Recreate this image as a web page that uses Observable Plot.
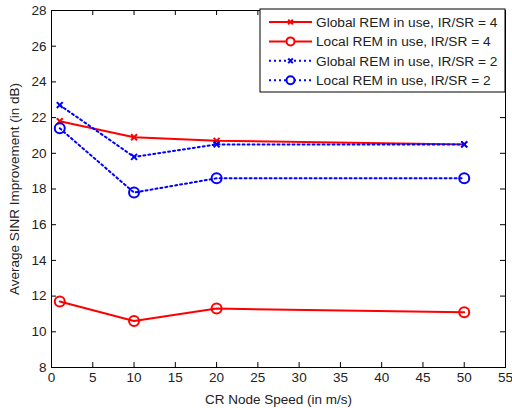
<!DOCTYPE html>
<html><head><meta charset="utf-8">
<script src="https://cdn.jsdelivr.net/npm/d3@7"></script>
<script src="https://cdn.jsdelivr.net/npm/@observablehq/plot@0.6"></script>
<style>body{margin:0;background:#fff;font-family:"Liberation Sans",Arial,sans-serif}</style>
</head><body><div id="chart"></div>
<script>
const speeds = [1, 10, 20, 50];
const globalIR4 = [21.8, 20.9, 20.7, 20.5];
const localIR4 = [11.7, 10.6, 11.3, 11.1];
const globalIR2 = [22.7, 19.8, 20.5, 20.5];
const localIR2 = [21.4, 17.8, 18.6, 18.6];
const seriesNames = ["Global REM in use, IR/SR = 4","Local REM in use, IR/SR = 4","Global REM in use, IR/SR = 2","Local REM in use, IR/SR = 2"];
const xTicks = d3.range(0, 56, 5);
const yTicks = d3.range(8, 29, 2);

const styles = [
  {color:"#ff0000", dash:null, symbol:"times"},
  {color:"#ff0000", dash:null, symbol:"circle"},
  {color:"#0000ff", dash:"2,3", symbol:"times"},
  {color:"#0000ff", dash:"2,3", symbol:"circle"}
];
const allVals = [globalIR4, localIR4, globalIR2, localIR2];
const rows = [];
allVals.forEach((vals, s) => vals.forEach((v, i) => rows.push({series: seriesNames[s], s, x: speeds[i], y: v})));

const W = 512, H = 408, mL = 51, mR = 7, mT = 10, mB = 41;
const inner = H - mT - mB, innerW = W - mL - mR;

const marks = [Plot.frame({stroke:"#000", strokeWidth:1})];
marks.push(Plot.tickX(xTicks, {x: d=>d, stroke:"#000", insetTop: inner-5}));
marks.push(Plot.tickX(xTicks, {x: d=>d, stroke:"#000", insetBottom: inner-5}));
marks.push(Plot.tickY(yTicks, {y: d=>d, stroke:"#000", insetRight: innerW-5}));
marks.push(Plot.tickY(yTicks, {y: d=>d, stroke:"#000", insetLeft: innerW-5}));
styles.forEach((st, s) => {
  const d = rows.filter(r => r.s === s);
  marks.push(Plot.line(d, {x:"x", y:"y", stroke: st.color, strokeWidth: 2, strokeDasharray: st.dash}));
  if (st.symbol === "circle")
    marks.push(Plot.dot(d, {x:"x", y:"y", stroke: st.color, strokeWidth: 2, r: 5, fill:"none"}));
  else
    marks.push(Plot.dot(d, {x:"x", y:"y", stroke: st.color, strokeWidth: 2, r: 2.8, symbol:"times"}));
});
marks.push(Plot.axisX(xTicks, {tickSize:0, tickPadding:5, fontSize:13.5, label:"CR Node Speed (in m/s)", labelAnchor:"center", labelArrow:"none", labelOffset:36, color:"#222"}));
marks.push(Plot.axisY(yTicks, {tickSize:0, tickPadding:5, fontSize:13.5, label:"Average SINR Improvement (in dB)", labelAnchor:"center", labelOffset:42, labelArrow:"none", color:"#222"}));

const chart = Plot.plot({
  width: W, height: H, marginLeft: mL, marginRight: mR, marginTop: mT, marginBottom: mB,
  style: {fontFamily: "'Liberation Sans', Arial, sans-serif", fontSize: "13.5px", color:"#222"},
  x: {domain:[0,55], labelArrow:"none"},
  y: {domain:[8,28], labelArrow:"none"},
  marks
});
document.getElementById("chart").append(chart);

// legend
const svg = d3.select(chart);
const lx = 260, ly = mT - 1, lw = W - mR - lx, lh = 83;
const g = svg.append("g").attr("text-anchor","start");
g.append("rect").attr("x", lx).attr("y", ly).attr("width", lw).attr("height", lh).attr("fill","#fff").attr("stroke","#000");
styles.forEach((st, i) => {
  const y = ly + 13 + i * 19.4;
  g.append("line").attr("x1", lx+9).attr("x2", lx+52).attr("y1", y).attr("y2", y)
    .attr("stroke", st.color).attr("stroke-width", 2).attr("stroke-dasharray", st.dash);
  const cx = lx + 30.5;
  if (st.symbol === "circle") g.append("circle").attr("cx", cx).attr("cy", y).attr("r", 4).attr("fill","#fff").attr("stroke", st.color).attr("stroke-width", 2);
  else g.append("path").attr("d", d3.symbol(d3.symbolTimes, 16)()).attr("transform", `translate(${cx},${y})`).attr("stroke", st.color).attr("stroke-width", 2).attr("fill","none");
  g.append("text").attr("x", lx+56).attr("y", y).attr("dy","0.35em").attr("font-size", 13.7).attr("fill","#222").text(seriesNames[i]);
});
</script></body></html>
